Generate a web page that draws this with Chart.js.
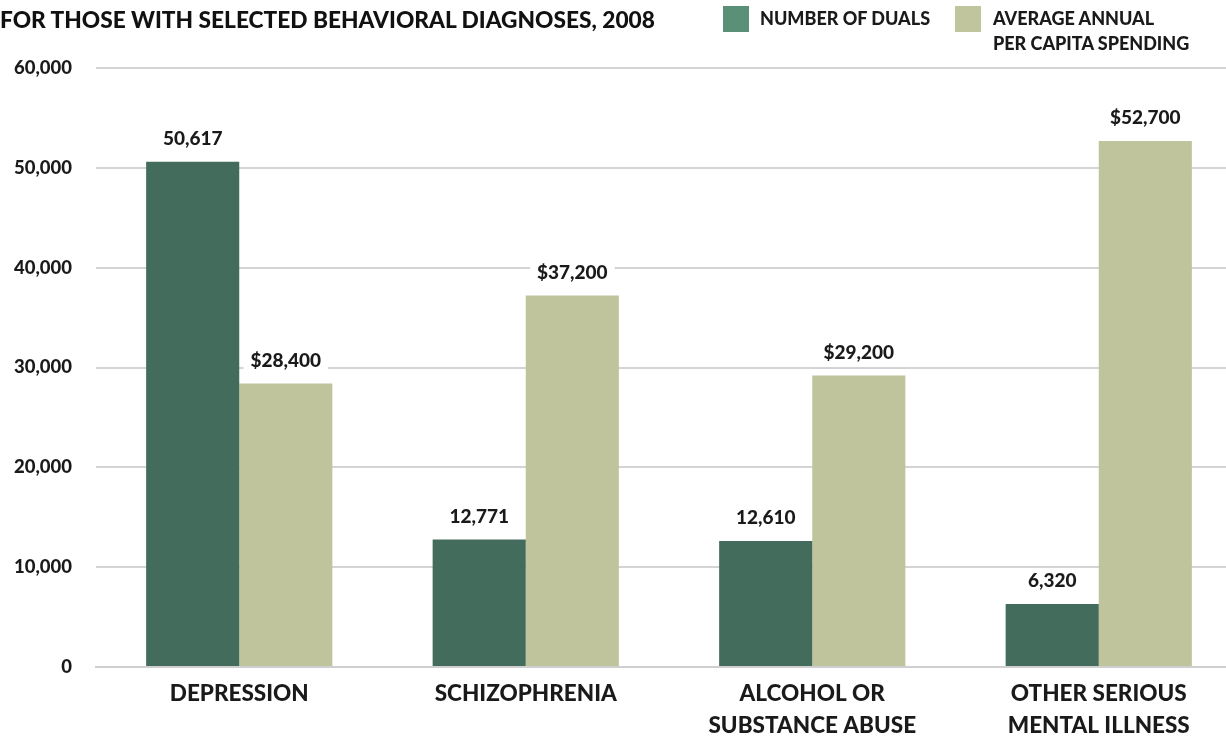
<!DOCTYPE html>
<html>
<head>
    <meta charset="utf-8" />
    <title>Duals with behavioral diagnoses, 2008</title>
    <script src="https://cdn.jsdelivr.net/npm/chart.js"></script>
    <style>
        html, body {
            margin: 0;
            padding: 0;
            width: 1226px;
            height: 737px;
            overflow: hidden;
            background: #ffffff;
            font-family: Lato, "Open Sans", sans-serif;
            color: #111;
        }
        .chart-box {
            position: absolute;
            left: 0;
            top: 0;
            width: 1250px;
            height: 737px;
        }
        .title {
            position: absolute;
            left: 0;
            top: 6px;
            font-weight: 900;
            font-size: 22.7px;
            white-space: nowrap;
        }
        .legend-item {
            position: absolute;
            top: 6px;
            font-weight: 900;
            font-size: 18px;
            line-height: 25px;
            color: #1a1a1a;
        }
        .swatch {
            position: absolute;
            top: 6px;
            width: 26px;
            height: 26px;
        }
    </style>
</head>
<body>
    <div class="chart-box">
        <canvas id="dualsChart" width="1250" height="737"></canvas>
    </div>
    <div class="title">FOR THOSE WITH SELECTED BEHAVIORAL DIAGNOSES, 2008</div>
    <div class="swatch" style="left:723px; background:#5a8f78;"></div>
    <div class="legend-item" style="left:760px;">NUMBER OF DUALS</div>
    <div class="swatch" style="left:955px; background:#c0c59d;"></div>
    <div class="legend-item" style="left:993px;">AVERAGE ANNUAL<br>PER CAPITA SPENDING</div>
    <script>
        // chart data
        const categories = [
            'DEPRESSION',
            'SCHIZOPHRENIA',
            ['ALCOHOL OR', 'SUBSTANCE ABUSE'],
            ['OTHER SERIOUS', 'MENTAL ILLNESS']
        ];
        const numberOfDuals = [50617, 12771, 12610, 6320];
        const perCapitaSpending = [28400, 37200, 29200, 52700];
        const yTicks = [0, 10000, 20000, 30000, 40000, 50000, 60000];

        const fmt = (v) => v.toLocaleString('en-US');

        // draws value labels over a white box above each bar
        const valueLabels = {
            id: 'valueLabels',
            afterDatasetsDraw(chart) {
                const ctx = chart.ctx;
                ctx.save();
                ctx.font = '900 19px Lato, "Open Sans", sans-serif';
                ctx.textAlign = 'center';
                ctx.textBaseline = 'middle';
                chart.data.datasets.forEach((ds, i) => {
                    chart.getDatasetMeta(i).data.forEach((bar, j) => {
                        const text = (i === 1 ? '$' : '') + fmt(ds.data[j]);
                        const w = ctx.measureText(text).width + 14;
                        const y = bar.y - 23;
                        ctx.fillStyle = '#ffffff';
                        ctx.fillRect(bar.x - w / 2, y - 11, w, 22);
                        ctx.fillStyle = '#1a1a1a';
                        ctx.fillText(text, bar.x, y);
                    });
                });
                ctx.restore();
            }
        };

        new Chart(document.getElementById('dualsChart'), {
            type: 'bar',
            data: {
                labels: categories,
                datasets: [
                    {
                        label: 'NUMBER OF DUALS',
                        data: numberOfDuals,
                        backgroundColor: '#436c5d'
                    },
                    {
                        label: 'AVERAGE ANNUAL PER CAPITA SPENDING',
                        data: perCapitaSpending,
                        backgroundColor: '#bfc49c'
                    }
                ]
            },
            options: {
                responsive: false,
                animation: false,
                categoryPercentage: 0.65,
                barPercentage: 1.0,
                layout: {
                    padding: { top: 68, right: 8, left: 0, bottom: 0 }
                },
                plugins: {
                    legend: { display: false },
                    tooltip: { enabled: false }
                },
                scales: {
                    x: {
                        grid: { display: false },
                        border: { color: '#cfcfcf', width: 2 },
                        ticks: {
                            color: '#1a1a1a',
                            padding: 3,
                            font: { family: 'Lato', weight: '900', size: 22.5, lineHeight: 1.42 },
                            maxRotation: 0,
                            autoSkip: false
                        },
                        afterFit(scale) {
                            scale.height = 70;
                        }
                    },
                    y: {
                        min: 0,
                        max: 60000,
                        afterBuildTicks(scale) {
                            scale.ticks = yTicks.map(v => ({ value: v }));
                        },
                        grid: {
                            color: '#d4d4d4',
                            lineWidth: 2,
                            drawTicks: false
                        },
                        border: { display: false },
                        ticks: {
                            color: '#1a1a1a',
                            padding: 24,
                            font: { family: 'Lato', weight: '900', size: 18.5 },
                            callback: (v) => fmt(v)
                        },
                        afterFit(scale) {
                            scale.width = 96;
                        }
                    }
                }
            },
            plugins: [valueLabels]
        });
    </script>
</body>
</html>
